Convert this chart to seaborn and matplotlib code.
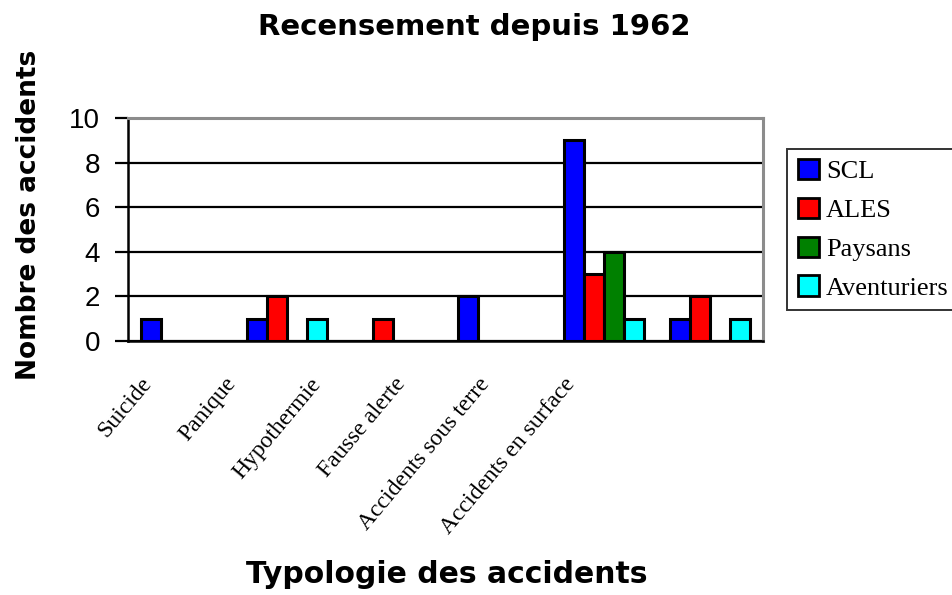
import numpy as np
import pandas as pd
import matplotlib
matplotlib.use('Agg')
import matplotlib.pyplot as plt
import seaborn as sns

# Data
categories = ['Suicide', 'Panique', 'Hypothermie', 'Fausse alerte',
              'Accidents sous terre', 'Accidents en surface']
groups = ['SCL', 'ALES', 'Paysans', 'Aventuriers']
scl = [1, 1, 0, 2, 9, 1]
ales = [0, 2, 1, 0, 3, 2]
paysans = [0, 0, 0, 0, 4, 0]
aventuriers = [0, 1, 0, 0, 1, 1]
y_ticks = [0, 2, 4, 6, 8, 10]

colors = ['#0000FF', '#FF0000', '#008000', '#00FFFF']

# long format table for seaborn
df = pd.DataFrame({'Typologie': categories * 4,
                   'Groupe': np.repeat(groups, len(categories)),
                   'Nombre': scl + ales + paysans + aventuriers})

sns.set_style('white')
plt.rcParams['font.family'] = ['Liberation Sans', 'DejaVu Sans']
plt.rcParams['text.color'] = 'black'
plt.rcParams['axes.labelcolor'] = 'black'
plt.rcParams['xtick.color'] = 'black'
plt.rcParams['ytick.color'] = 'black'

fig = plt.figure(figsize=(9.52, 5.95), dpi=100)
ax = fig.add_axes([0.1345, 0.427, 0.667, 0.3747])

sns.barplot(data=df, x='Typologie', y='Nombre', hue='Groupe', order=categories,
            hue_order=groups, palette=colors, width=0.76, edgecolor='black',
            linewidth=2.2, saturation=1, ax=ax, legend=False)

# hide zero-height bars (not visible in the original)
for patch in ax.patches:
    if patch.get_height() == 0:
        patch.set_visible(False)

ax.set_xlim(-0.5, len(categories) - 0.5)
ax.set_ylim(0, 10)
ax.set_yticks(y_ticks)
ax.set_yticklabels([str(v) for v in y_ticks], fontsize=20)
ax.yaxis.grid(True, color='black', linewidth=1.6)
ax.set_axisbelow(True)

# tick marks on the category boundaries, labels shifted like the original
ax.set_xticks(np.arange(len(categories) + 1) - 0.5, minor=True)
ax.set_xticks(np.arange(len(categories)) * 0.8 - 0.39)
ax.set_xticklabels(categories, rotation=50, ha='right', rotation_mode='anchor',
                   family='Liberation Serif', fontsize=17)
ax.tick_params(axis='x', which='major', length=0, pad=23.5)
ax.tick_params(axis='x', which='minor', length=7, width=1.6, color='black', direction='out')
ax.tick_params(axis='y', length=9.4, width=1.6, color='black', direction='out', left=True, pad=10.8)

for side in ['left', 'bottom']:
    ax.spines[side].set_color('black')
    ax.spines[side].set_linewidth(1.8)
for side in ['top', 'right']:
    ax.spines[side].set_color('#8c8c8c')
    ax.spines[side].set_linewidth(2.2)

ax.set_xlabel('')
ax.set_ylabel('Nombre des accidents', fontsize=19, fontweight='bold', family='DejaVu Sans')
ax.yaxis.set_label_coords(-0.135, 0.565)
fig.text(0.469, 0.02, 'Typologie des accidents', fontsize=21.5, fontweight='bold',
         family='DejaVu Sans', ha='center', va='baseline')
fig.text(0.498, 0.941, 'Recensement depuis 1962', fontsize=21, fontweight='bold',
         family='DejaVu Sans', ha='center', va='baseline')

handles = [plt.Rectangle((0, 0), 1, 1, facecolor=c, edgecolor='black', linewidth=2)
           for c in colors]
leg = ax.legend(handles, groups, loc='center left', bbox_to_anchor=(1.038, 0.5),
                prop={'family': 'Liberation Serif', 'size': 19}, frameon=True,
                fancybox=False, handlelength=0.8, handleheight=0.8, handletextpad=0.28,
                labelspacing=0.55, borderpad=0.4, borderaxespad=0)
leg.get_frame().set_edgecolor('black')
leg.get_frame().set_linewidth(1.4)

fig.savefig('out.png', dpi=100)
